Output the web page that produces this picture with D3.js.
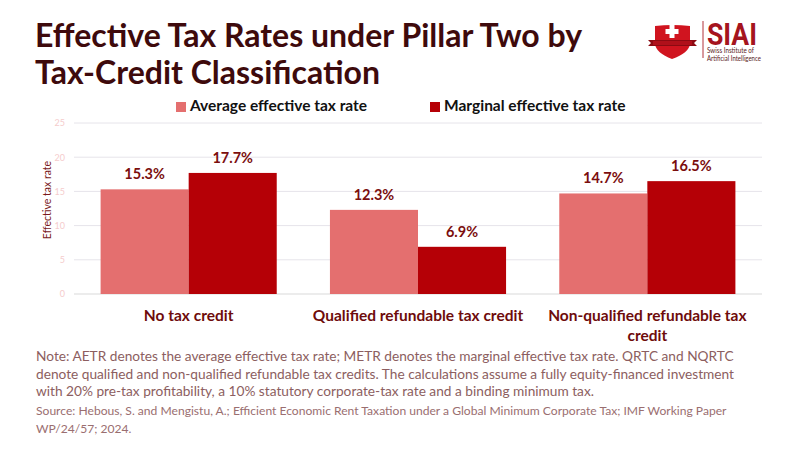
<!DOCTYPE html>
<html><head><meta charset="utf-8">
<script src="https://cdn.jsdelivr.net/npm/d3@7"></script>
<style>
body{margin:0;background:#fff;}
svg{display:block;font-family:Lato,"Noto Sans",sans-serif;}
</style></head>
<body>
<svg id="chart" width="800" height="450"></svg>
<script>
const categories = ["No tax credit", "Qualified refundable tax credit", "Non-qualified refundable tax credit"];
const categoryLines = [["No tax credit"], ["Qualified refundable tax credit"], ["Non-qualified refundable tax", "credit"]];
const seriesNames = ["Average effective tax rate", "Marginal effective tax rate"];
const aetr = [15.3, 12.3, 14.7];
const metr = [17.7, 6.9, 16.5];
const yTicks = [0, 5, 10, 15, 20, 25];
const colors = ["#e46f6f", "#b50006"];
const titleLines = ["Effective Tax Rates under Pillar Two by", "Tax-Credit Classification"];
const noteLines = [
  "Note: AETR denotes the average effective tax rate; METR denotes the marginal effective tax rate. QRTC and NQRTC",
  "denote qualified and non-qualified refundable tax credits. The calculations assume a fully equity-financed investment",
  "with 20% pre-tax profitability, a 10% statutory corporate-tax rate and a binding minimum tax."
];
const sourceLines = [
  "Source: Hebous, S. and Mengistu, A.; Efficient Economic Rent Taxation under a Global Minimum Corporate Tax; IMF Working Paper",
  "WP/24/57; 2024."
];

const svg = d3.select("#chart");
const series = [aetr, metr];

const margin = {left: 74, right: 38, top: 123, bottom: 156};
const W = 800, H = 450;
const x0 = d3.scaleBand().domain(categories).range([margin.left, W - margin.right])
  .paddingInner(0.232).paddingOuter(0.116);
const x1 = d3.scaleBand().domain(seriesNames).range([0, x0.bandwidth()]);
const y = d3.scaleLinear().domain([0, 25]).range([H - margin.bottom, margin.top]);

// gridlines
svg.append("g").selectAll("line").data(yTicks).join("line")
  .attr("x1", margin.left).attr("x2", W - margin.right)
  .attr("y1", d => y(d)).attr("y2", d => y(d))
  .attr("stroke", d => d === 0 ? "#d9d9d9" : "#e6e4ea").attr("stroke-width", 1);

// y axis
const yAxis = svg.append("g").attr("transform", `translate(${margin.left},0)`)
  .call(d3.axisLeft(y).tickValues(yTicks).tickSize(0).tickPadding(9));
yAxis.select(".domain").remove();
yAxis.selectAll("text").attr("fill", "#f5cccc").style("font-size", "9px").style("font-family", "Lato, sans-serif");

svg.append("text").attr("transform", `translate(51,200) rotate(-90)`)
  .attr("text-anchor", "middle").attr("fill", "#7a1a1a").style("font-size", "10.5px")
  .text("Effective tax rate");

// bars
const groups = svg.append("g").selectAll("g").data(categories).join("g")
  .attr("transform", d => `translate(${x0(d)},0)`);
groups.selectAll("rect").data((d, i) => seriesNames.map((s, j) => ({s, v: series[j][i], j})))
  .join("rect")
  .attr("x", d => x1(d.s)).attr("width", x1.bandwidth())
  .attr("y", d => y(d.v)).attr("height", d => y(0) - y(d.v))
  .attr("fill", d => colors[d.j]);
groups.selectAll("text.val").data((d, i) => seriesNames.map((s, j) => ({s, v: series[j][i], j})))
  .join("text").attr("class", "val")
  .attr("x", d => x1(d.s) + x1.bandwidth() / 2).attr("y", d => y(d.v) - 10)
  .attr("text-anchor", "middle").attr("fill", "#7b0e0e")
  .style("font-size", "14.5px").style("font-weight", "bold")
  .text(d => d.v.toFixed(1) + "%");

// x labels
categories.forEach((c, i) => {
  const cx = x0(c) + x0.bandwidth() / 2;
  const t = svg.append("text").attr("x", cx).attr("y", 320.5)
    .attr("text-anchor", "middle").attr("fill", "#6e0b0b")
    .style("font-size", "15.5px").style("font-weight", "bold");
  categoryLines[i].forEach((ln, k) => {
    t.append("tspan").attr("x", cx).attr("dy", k === 0 ? 0 : 20).text(ln);
  });
});

// title
svg.append("text").attr("x", 36).attr("y", 47).attr("fill", "#3e0a0c")
  .style("font-size", "32px").style("font-weight", "bold")
  .selectAll("tspan").data(titleLines).join("tspan")
  .attr("x", 35).attr("dy", (d, i) => i === 0 ? 0 : 37).text(d => d);

// legend
const legendX = [176, 430];
seriesNames.forEach((s, i) => {
  svg.append("rect").attr("x", legendX[i]).attr("y", 102).attr("width", 10).attr("height", 10).attr("fill", colors[i]);
  svg.append("text").attr("x", legendX[i] + 14).attr("y", 111).attr("fill", "#111")
    .style("font-size", "15.5px").style("font-weight", "bold").text(s);
});

// notes
svg.append("text").attr("fill", "#8c5e60").style("font-size", "13.7px")
  .selectAll("tspan").data(noteLines).join("tspan")
  .attr("x", 36).attr("y", (d, i) => 361 + i * 17.5).text(d => d);
svg.append("text").attr("fill", "#9a6e70").style("font-size", "12.1px")
  .selectAll("tspan").data(sourceLines).join("tspan")
  .attr("x", 36).attr("y", (d, i) => 415 + i * 18).text(d => d);

// logo
const logo = svg.append("g");
logo.append("path").attr("d", "M655,26 Q672.5,24 690,26 L690,44 Q689,53 672,59 Q656,53 655,44 Z").attr("fill", "#d0141f");
logo.append("path").attr("d", "M648,40 L697,40 L694,43 L697,46 L648,46 L651,43 Z").attr("fill", "#8c0a12");
logo.append("rect").attr("x", 653).attr("y", 41).attr("width", 39).attr("height", 4).attr("fill", "#b0101a");
logo.append("rect").attr("x", 669.5).attr("y", 25).attr("width", 5).attr("height", 13).attr("fill", "#fff");
logo.append("rect").attr("x", 665.5).attr("y", 29).attr("width", 13).attr("height", 5).attr("fill", "#fff");
logo.append("line").attr("x1", 703).attr("x2", 703).attr("y1", 21).attr("y2", 58).attr("stroke", "#b0323a").attr("stroke-width", 1);
logo.append("text").attr("x", 707).attr("y", 45).attr("fill", "#a5141e")
  .attr("textLength", 50).attr("lengthAdjust", "spacingAndGlyphs")
  .style("font-size", "31px").style("font-weight", "bold").style("font-family", "Roboto, sans-serif").text("SIAI");
logo.append("text").attr("x", 707).attr("y", 53).attr("fill", "#5a1a1a").style("font-size", "6.6px")
  .attr("textLength", 47).attr("lengthAdjust", "spacingAndGlyphs").text("Swiss Institute of");
logo.append("text").attr("x", 707).attr("y", 60.5).attr("fill", "#5a1a1a").style("font-size", "6.6px")
  .attr("textLength", 54).attr("lengthAdjust", "spacingAndGlyphs").text("Artificial Intelligence");
</script>
</body></html>
